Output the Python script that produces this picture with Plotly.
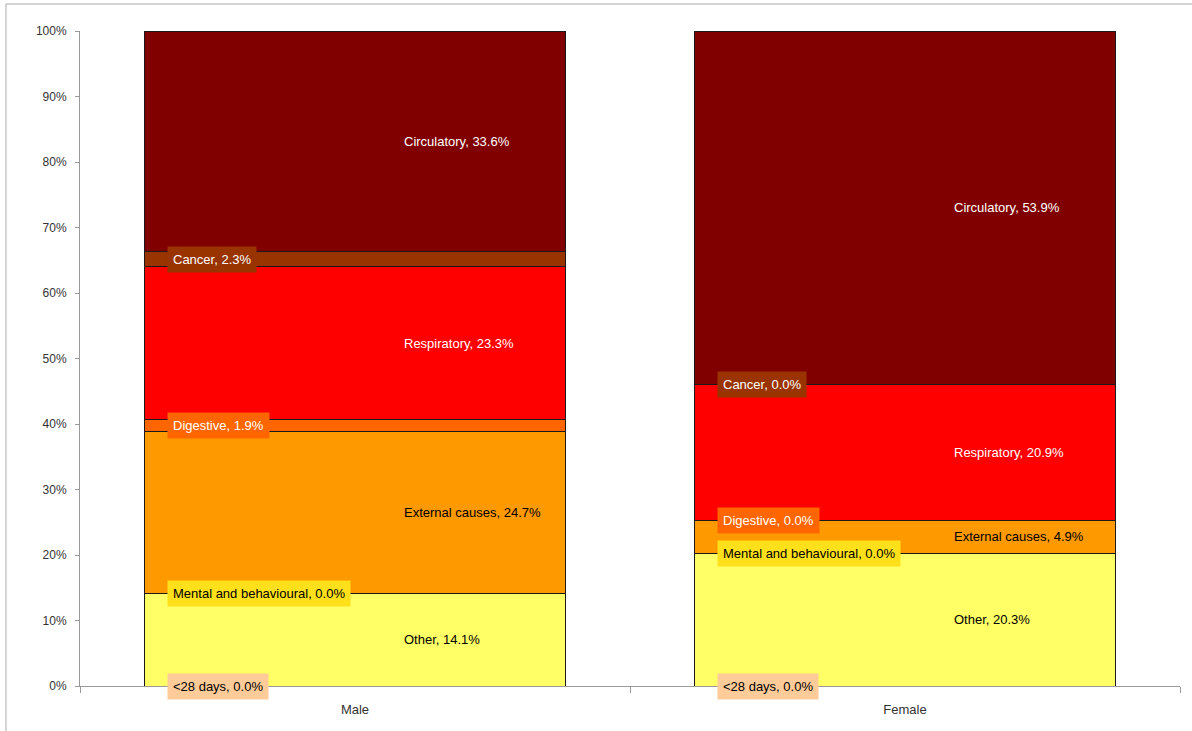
import plotly.graph_objects as go

# Causes of death, share of each sex (%), stacked bottom to top
categories = ["Male", "Female"]
causes = ["<28 days", "Other", "Mental and behavioural", "External causes",
          "Digestive", "Respiratory", "Cancer", "Circulatory"]
male_pct = [0.0, 14.1, 0.0, 24.7, 1.9, 23.3, 2.3, 33.6]
female_pct = [0.0, 20.3, 0.0, 4.9, 0.0, 20.9, 0.0, 53.9]
y_ticks = [0, 10, 20, 30, 40, 50, 60, 70, 80, 90, 100]
y_tick_labels = ["0%", "10%", "20%", "30%", "40%", "50%", "60%", "70%", "80%", "90%", "100%"]

colors = {
    "<28 days": "#FFCC99",
    "Other": "#FFFF66",
    "Mental and behavioural": "#FFE01A",
    "External causes": "#FF9900",
    "Digestive": "#FF6600",
    "Respiratory": "#FF0000",
    "Cancer": "#993300",
    "Circulatory": "#800000",
}
white_text = {"Circulatory", "Cancer", "Respiratory", "Digestive"}
boxed = {"<28 days", "Mental and behavioural", "Digestive", "Cancer"}

BARGAP = 0.233
BAR_W = 1 - BARGAP
LABEL_FONT = "Liberation Sans, Arial, sans-serif"

series = {"Male": male_pct, "Female": female_pct}

fig = go.Figure()
for k, cause in enumerate(causes):
    fig.add_trace(go.Bar(
        name=cause,
        x=categories,
        y=[series[c][k] for c in categories],
        marker=dict(color=colors[cause], line=dict(color="#1a1a1a", width=1)),
        hoverinfo="skip",
    ))

annotations = []
for i, cat in enumerate(categories):
    base = 0.0
    for k, cause in enumerate(causes):
        v = series[cat][k]
        mid = base + v / 2
        base += v
        txt = f"{cause}, {v:.1f}%"
        fcol = "white" if cause in white_text else "black"
        if cause in boxed:
            annotations.append(dict(
                x=i - BAR_W / 2 + 0.042, y=mid, xref="x", yref="y",
                text=txt, showarrow=False, xanchor="left", yanchor="middle",
                bgcolor=colors[cause], borderpad=5,
                font=dict(family=LABEL_FONT, size=13, color=fcol),
            ))
        else:
            annotations.append(dict(
                x=i + 0.085, y=mid, xref="x", yref="y",
                text=txt, showarrow=False, xanchor="left", yanchor="middle",
                font=dict(family=LABEL_FONT, size=13, color=fcol),
            ))

fig.update_layout(
    width=1192, height=731,
    margin=dict(l=80, r=12, t=31, b=45),
    paper_bgcolor="white", plot_bgcolor="white",
    barmode="stack", bargap=BARGAP,
    showlegend=False,
    annotations=annotations,
    shapes=[dict(type="rect", xref="paper", yref="paper",
                 x0=-0.0673, x1=1.0182, y0=-0.0824, y1=1.0412,
                 line=dict(color="#AAAAAA", width=1), layer="below")],
    font=dict(family="Liberation Sans, Arial, sans-serif", color="#333333"),
)
fig.update_xaxes(
    type="category", range=[-0.5, 1.5],
    showline=True, linecolor="#9A9A9A", linewidth=1,
    ticks="outside", tickson="boundaries", ticklen=6, tickcolor="#9A9A9A",
    tickfont=dict(size=13, color="#333333"), ticklabelstandoff=11,
    showgrid=False, zeroline=False,
)
fig.update_yaxes(
    range=[0, 100], tickvals=y_ticks, ticktext=y_tick_labels,
    showline=True, linecolor="#9A9A9A", linewidth=1,
    ticks="outside", ticklen=4, tickcolor="#9A9A9A",
    tickfont=dict(size=12, color="#333333"), ticklabelstandoff=6,
    showgrid=False, zeroline=False,
)

fig.write_html("out.html")
